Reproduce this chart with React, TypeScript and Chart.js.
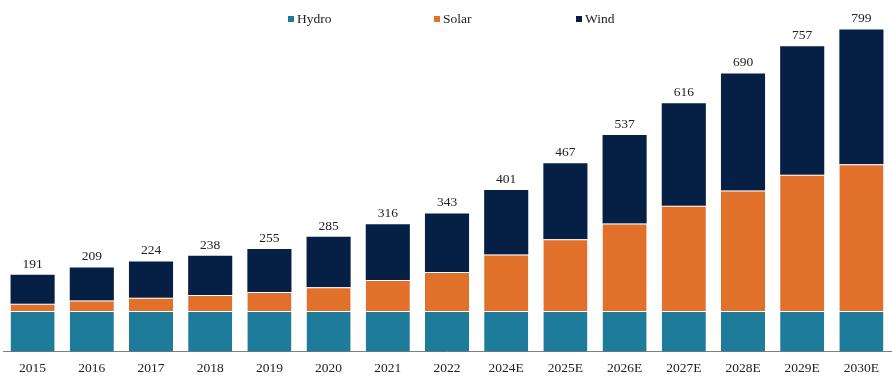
import React, { useEffect, useRef } from "react";
import { Chart, registerables } from "chart.js";

Chart.register(...registerables);

const categories = ["2015", "2016", "2017", "2018", "2019", "2020", "2021", "2022", "2024E", "2025E", "2026E", "2027E", "2028E", "2029E", "2030E"];
const hydro = [101, 101, 101, 101, 101, 101, 101, 101, 101, 101, 101, 101, 101, 101, 101];
const solar = [18, 26, 33, 40, 47, 59, 77, 97, 140, 178, 217, 261, 299, 338, 364];
const wind = [72, 82, 90, 97, 107, 125, 138, 145, 160, 188, 219, 254, 290, 318, 334];
const totals = [191, 209, 224, 238, 255, 285, 316, 343, 401, 467, 537, 616, 690, 757, 799];

const HYDRO_COLOR = "#1f7b9a";
const SOLAR_COLOR = "#e0702a";
const WIND_COLOR = "#061f44";
const FONT = "'Liberation Serif', 'Times New Roman', serif";

const legendItems = [
  { label: "Hydro", color: HYDRO_COLOR, x: 288 },
  { label: "Solar", color: SOLAR_COLOR, x: 434 },
  { label: "Wind", color: WIND_COLOR, x: 576 },
];

const totalsPlugin = {
  id: "totalsPlugin",
  afterDatasetsDraw(chart: any) {
    const ctx = chart.ctx;
    const meta = chart.getDatasetMeta(2);
    ctx.save();
    ctx.font = `13.5px ${FONT}`;
    ctx.fillStyle = "#222";
    ctx.textAlign = "center";
    ctx.textBaseline = "alphabetic";
    meta.data.forEach((bar: any, i: number) => {
      ctx.fillText(String(totals[i]), bar.x, bar.y - 7);
    });
    ctx.restore();
  },
};

const legendPlugin = {
  id: "customLegend",
  afterDraw(chart: any) {
    const ctx = chart.ctx;
    ctx.save();
    ctx.font = `13.5px ${FONT}`;
    ctx.textBaseline = "middle";
    ctx.textAlign = "left";
    legendItems.forEach((it) => {
      ctx.fillStyle = it.color;
      ctx.fillRect(it.x, 16, 6, 6);
      ctx.fillStyle = "#222";
      ctx.fillText(it.label, it.x + 9, 19);
    });
    ctx.restore();
  },
};

export default function App() {
  const ref = useRef<HTMLCanvasElement | null>(null);
  useEffect(() => {
    if (!ref.current) return;
    const seg = { top: 1, bottom: 0, left: 0, right: 0 };
    const chart = new Chart(ref.current, {
      type: "bar",
      data: {
        labels: categories,
        datasets: [
          { label: "Hydro", data: hydro, backgroundColor: HYDRO_COLOR, borderColor: "#ffffff", borderWidth: seg, borderSkipped: false },
          { label: "Solar", data: solar, backgroundColor: SOLAR_COLOR, borderColor: "#ffffff", borderWidth: seg, borderSkipped: false },
          { label: "Wind", data: wind, backgroundColor: WIND_COLOR, borderWidth: 0 },
        ],
      },
      options: {
        animation: false,
        responsive: false,
        maintainAspectRatio: false,
        layout: { padding: { top: 29, left: 3, right: 1, bottom: -9 } },
        plugins: {
          legend: { display: false },
          tooltip: { enabled: false },
        },
        datasets: { bar: { categoryPercentage: 1, barPercentage: 0.745 } },
        scales: {
          x: {
            stacked: true,
            grid: { display: false, drawTicks: false },
            border: { display: true, color: "#7f7f7f", width: 1 },
            ticks: { color: "#222", font: { family: FONT, size: 13.5 }, padding: 9, maxRotation: 0, autoSkip: false },
          },
          y: {
            stacked: true,
            display: false,
            min: 0,
            max: 800,
          },
        },
      },
      plugins: [totalsPlugin, legendPlugin],
    });
    return () => chart.destroy();
  }, []);
  return (
    <div style={{ position: "absolute", left: 0, top: 0, width: 892, height: 377, background: "#fff" }}>
      <canvas ref={ref} width={892} height={377} style={{ width: 892, height: 377, display: "block" }} />
    </div>
  );
}
